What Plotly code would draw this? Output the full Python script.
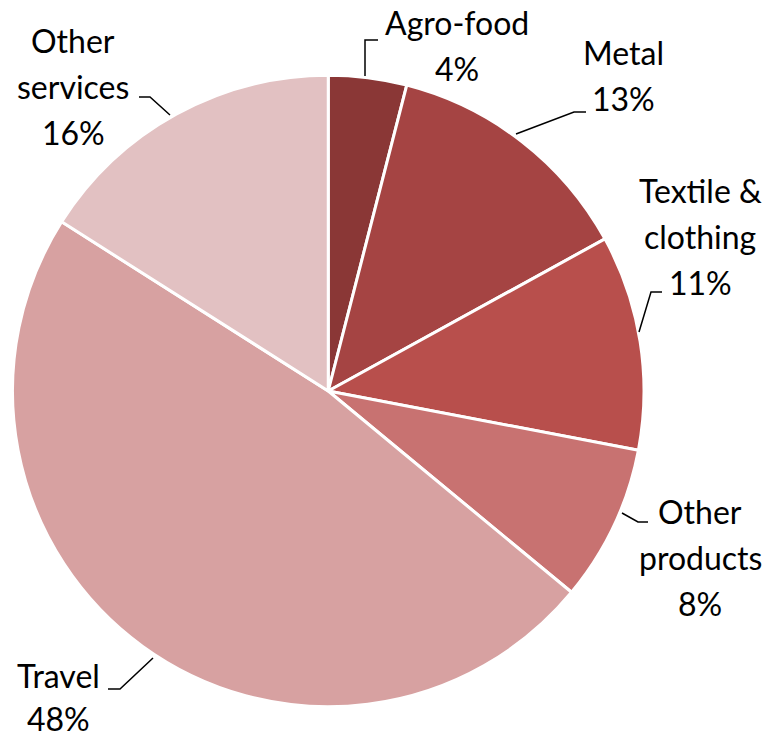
import plotly.graph_objects as go

# Export composition by category (share of total, %)
categories = ["Agro-food", "Metal", "Textile & clothing", "Other products", "Travel", "Other services"]
shares = [4, 13, 11, 8, 48, 16]
colors = ["#8A3736", "#A54443", "#B84F4C", "#C87271", "#D7A1A1", "#E2C1C2"]

# Label text lines for each slice (name lines, then share)
label_lines = [
    ["Agro-food"],
    ["Metal"],
    ["Textile &", "clothing"],
    ["Other", "products"],
    ["Travel"],
    ["Other", "services"],
]

W, H = 769, 737
FONT = "Lato"
FS = 32
LINE_GAP = 46

# Pie placement in pixels
cx0, cx1, cy0, cy1 = 12.5, 644, 75, 707

# Label block anchors (center x, center y of first line) in pixels
label_pos = [(457, 22), (623, 52), (700, 190), (700, 511), (58, 675), (73, 40)]

# Leader line polylines in pixels
leaders = [
    [(365, 76), (365, 40), (378, 40)],
    [(516, 134), (574, 112), (586, 112)],
    [(639, 332), (651, 292), (662, 292)],
    [(622, 513), (638, 522), (648, 522)],
    [(153, 658), (120, 689), (108, 689)],
    [(170, 115), (150, 97), (139, 97)],
]

fig = go.Figure()
fig.add_trace(go.Pie(
    labels=categories,
    values=shares,
    sort=False,
    direction="clockwise",
    rotation=0,
    marker=dict(colors=colors, line=dict(color="white", width=3)),
    textinfo="none",
    hoverinfo="label+percent",
    showlegend=False,
    domain=dict(x=[cx0 / W, cx1 / W], y=[1 - cy1 / H, 1 - cy0 / H]),
))

# Pixel-space overlay axes for labels and leader lines
fig.update_layout(
    xaxis=dict(range=[0, W], visible=False, fixedrange=True),
    yaxis=dict(range=[H, 0], visible=False, fixedrange=True),
)

annotations = []
for lines, val, (lx, ly) in zip(label_lines, shares, label_pos):
    texts = lines + [f"{val}%"]
    gap = LINE_GAP if ly < 600 else LINE_GAP - 3
    for i, t in enumerate(texts):
        annotations.append(dict(
            x=lx, y=ly + i * gap, xref="x", yref="y",
            text=t, showarrow=False, xanchor="center", yanchor="middle",
            borderpad=0,
            font=dict(family=FONT, size=FS, color="#000000"),
        ))

shapes = []
for pts in leaders:
    path = "M " + " L ".join(f"{x},{y}" for x, y in pts)
    shapes.append(dict(type="path", path=path, xref="x", yref="y",
                       line=dict(color="#000000", width=1.5)))

fig.update_layout(
    width=W, height=H,
    margin=dict(l=0, r=0, t=0, b=0),
    paper_bgcolor="white",
    plot_bgcolor="rgba(0,0,0,0)",
    annotations=annotations,
    shapes=shapes,
    font=dict(family=FONT),
)

fig.write_html("out.html")
